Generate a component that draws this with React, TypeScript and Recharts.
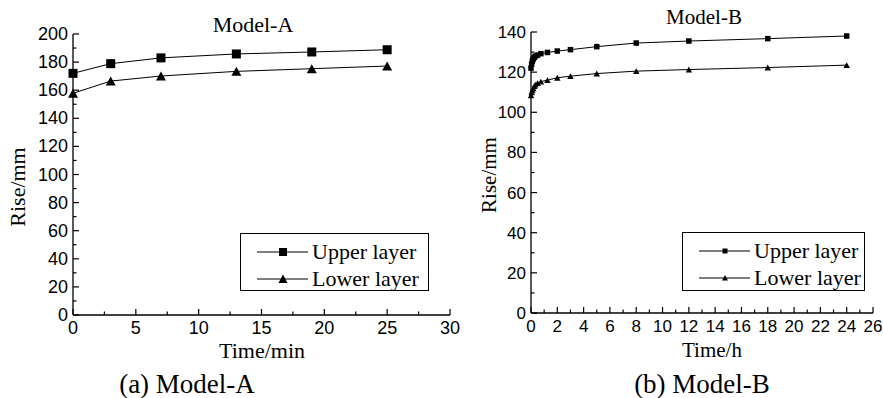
import React from "react";
import { Legend, Line, LineChart, XAxis, YAxis } from "recharts";

// Model-A (minutes)
const timeA = [0, 3, 7, 13, 19, 25];
const upperA = [172, 178.9, 183, 185.8, 187.2, 188.8];
const lowerA = [157.8, 166.5, 170.1, 173.4, 175.3, 177.2];

// Model-B (hours)
const timeB = [0, 0.05, 0.1, 0.17, 0.25, 0.33, 0.5, 0.75, 1.25, 2, 3, 5, 8, 12, 18, 24];
const upperB = [122, 124, 125.5, 126.5, 127.3, 128, 128.5, 129.2, 129.8, 130.5, 131.2, 132.7, 134.5, 135.5, 136.7, 138];
const lowerB = [108.5, 110, 111, 112, 113, 113.8, 114.5, 115.3, 116, 117.2, 118, 119.3, 120.5, 121.3, 122.3, 123.5];

const xTicksA = [0, 2.5, 5, 7.5, 10, 12.5, 15, 17.5, 20, 22.5, 25, 27.5, 30];
const xLabelsA = [0, 5, 10, 15, 20, 25, 30];
const yTicksA = [0, 10, 20, 30, 40, 50, 60, 70, 80, 90, 100, 110, 120, 130, 140, 150, 160, 170, 180, 190, 200];
const yLabelsA = [0, 20, 40, 60, 80, 100, 120, 140, 160, 180, 200];

const xTicksB = [0, 1, 2, 3, 4, 5, 6, 7, 8, 9, 10, 11, 12, 13, 14, 15, 16, 17, 18, 19, 20, 21, 22, 23, 24, 25, 26];
const xLabelsB = [0, 2, 4, 6, 8, 10, 12, 14, 16, 18, 20, 22, 24, 26];
const yTicksB = [0, 10, 20, 30, 40, 50, 60, 70, 80, 90, 100, 110, 120, 130, 140];
const yLabelsB = [0, 20, 40, 60, 80, 100, 120, 140];

const seriesNames = ["Upper layer", "Lower layer"];

const dataA = timeA.map((t, i) => ({ t, upper: upperA[i], lower: lowerA[i] }));
const dataB = timeB.map((t, i) => ({ t, upper: upperB[i], lower: lowerB[i] }));

const SANS = "'Liberation Sans', Arial, sans-serif";
const SERIF = "'Liberation Serif', 'Times New Roman', serif";

function BottomTick(props: any) {
  const { x, y, payload, labels, fontSize } = props;
  const major = labels.includes(payload.value);
  return (
    <g>
      <line x1={x} x2={x} y1={y} y2={y - (major ? 6 : 3.5)} stroke="#000" strokeWidth={1.2} />
      {major && (
        <text x={x} y={y + 19} textAnchor="middle" fontFamily={SANS} fontSize={fontSize} fill="#000">
          {payload.value}
        </text>
      )}
    </g>
  );
}

function LeftTick(props: any) {
  const { x, y, payload, labels, fontSize } = props;
  const major = labels.includes(payload.value);
  return (
    <g>
      <line x1={x} x2={x + (major ? 6 : 3.5)} y1={y} y2={y} stroke="#000" strokeWidth={1.2} />
      {major && (
        <text x={x - 5} y={y + 6} textAnchor="end" fontFamily={SANS} fontSize={fontSize} fill="#000">
          {payload.value}
        </text>
      )}
    </g>
  );
}

function square(size: number) {
  return (p: any) => (
    <rect key={`s-${p.index}`} x={p.cx - size / 2} y={p.cy - size / 2} width={size} height={size} fill="#000" />
  );
}

function triangle(size: number) {
  return (p: any) => {
    const h = size * 0.9;
    const pts = `${p.cx - size / 2},${p.cy + h / 2} ${p.cx + size / 2},${p.cy + h / 2} ${p.cx},${p.cy - h / 2}`;
    return <polygon key={`t-${p.index}`} points={pts} fill="#000" />;
  };
}

function LegendBox(props: any) {
  const { payload, w, h, mk } = props;
  const items = [...(payload || [])].sort(
    (a: any, b: any) => seriesNames.indexOf(a.value) - seriesNames.indexOf(b.value)
  );
  return (
    <svg width={w} height={h} style={{ display: "block" }}>
      <rect x={0.5} y={0.5} width={w - 1} height={h - 1} fill="#fff" stroke="#000" strokeWidth={1} />
      {items.map((item: any, i: number) => {
        const cy = 19 + i * 27;
        const cx = 43;
        return (
          <g key={item.value}>
            <line x1={17} x2={68} y1={cy} y2={cy} stroke="#000" strokeWidth={1} />
            {i === 0 ? (
              <rect x={cx - mk / 2} y={cy - mk / 2} width={mk} height={mk} fill="#000" />
            ) : (
              <polygon
                points={`${cx - mk / 2 - 0.5},${cy + mk / 2} ${cx + mk / 2 + 0.5},${cy + mk / 2} ${cx},${cy - mk / 2 - 0.5}`}
                fill="#000"
              />
            )}
            <text x={72} y={cy + 7} fontFamily={SERIF} fontSize={22} fill="#000">
              {item.value}
            </text>
          </g>
        );
      })}
    </svg>
  );
}

const axisLine = { stroke: "#000", strokeWidth: 1.3 };

export default function App() {
  return (
    <div style={{ position: "absolute", left: 0, top: 0, width: 883, height: 398, background: "#fff", overflow: "hidden" }}>
      <div style={{ position: "absolute", left: 0, top: 0 }}>
        <LineChart width={460} height={398} data={dataA} margin={{ top: 34, right: 10, bottom: 53, left: 13 }}>
          <XAxis
            dataKey="t"
            type="number"
            domain={[0, 30]}
            ticks={xTicksA}
            interval={0}
            height={30}
            tickSize={0}
            tickMargin={0}
            tickLine={false}
            axisLine={axisLine}
            tick={(p: any) => <BottomTick {...p} labels={xLabelsA} fontSize={18} />}
          />
          <YAxis
            type="number"
            domain={[0, 200]}
            ticks={yTicksA}
            interval={0}
            width={60}
            tickSize={0}
            tickMargin={0}
            tickLine={false}
            axisLine={axisLine}
            tick={(p: any) => <LeftTick {...p} labels={yLabelsA} fontSize={18} />}
          />
          <Legend
            layout="horizontal"
            align="center"
            verticalAlign="middle"
            wrapperStyle={{ left: 240, top: 233, width: 189, height: 58, bottom: "auto", right: "auto" }}
            content={(p: any) => <LegendBox payload={p.payload} w={189} h={58} mk={8} />}
          />
          <Line
            dataKey="upper"
            name={seriesNames[0]}
            stroke="#000"
            strokeWidth={1}
            dot={square(9)}
            isAnimationActive={false}
          />
          <Line
            dataKey="lower"
            name={seriesNames[1]}
            stroke="#000"
            strokeWidth={1}
            dot={triangle(10)}
            isAnimationActive={false}
          />
        </LineChart>
      </div>

      <div style={{ position: "absolute", left: 460, top: 0 }}>
        <LineChart width={423} height={398} data={dataB} margin={{ top: 32, right: 10, bottom: 55, left: 11 }}>
          <XAxis
            dataKey="t"
            type="number"
            domain={[0, 26]}
            ticks={xTicksB}
            interval={0}
            height={30}
            tickSize={0}
            tickMargin={0}
            tickLine={false}
            axisLine={axisLine}
            tick={(p: any) => <BottomTick {...p} labels={xLabelsB} fontSize={17} />}
          />
          <YAxis
            type="number"
            domain={[0, 140]}
            ticks={yTicksB}
            interval={0}
            width={60}
            tickSize={0}
            tickMargin={0}
            tickLine={false}
            axisLine={axisLine}
            tick={(p: any) => <LeftTick {...p} labels={yLabelsB} fontSize={17} />}
          />
          <Legend
            layout="horizontal"
            align="center"
            verticalAlign="middle"
            wrapperStyle={{ left: 222, top: 232, width: 183, height: 59, bottom: "auto", right: "auto" }}
            content={(p: any) => <LegendBox payload={p.payload} w={183} h={59} mk={5} />}
          />
          <Line
            dataKey="upper"
            name={seriesNames[0]}
            stroke="#000"
            strokeWidth={1}
            dot={square(5.5)}
            isAnimationActive={false}
          />
          <Line
            dataKey="lower"
            name={seriesNames[1]}
            stroke="#000"
            strokeWidth={1}
            dot={triangle(6.5)}
            isAnimationActive={false}
          />
        </LineChart>
      </div>

      <svg
        width={883}
        height={398}
        style={{ position: "absolute", left: 0, top: 0, pointerEvents: "none" }}
        fontFamily={SERIF}
        fill="#000"
      >
        <text x={253} y={32} textAnchor="middle" fontSize={22}>Model-A</text>
        <text x={704} y={24} textAnchor="middle" fontSize={21}>Model-B</text>
        <text x={262} y={358} textAnchor="middle" fontSize={22}>Time/min</text>
        <text x={712} y={357} textAnchor="middle" fontSize={21}>Time/h</text>
        <text transform="translate(25,187) rotate(-90)" textAnchor="middle" fontSize={22}>Rise/mm</text>
        <text transform="translate(496,175) rotate(-90)" textAnchor="middle" fontSize={21}>Rise/mm</text>
        <text x={187} y={393} textAnchor="middle" fontSize={27}>(a) Model-A</text>
        <text x={702} y={393} textAnchor="middle" fontSize={27}>(b) Model-B</text>
      </svg>
    </div>
  );
}
